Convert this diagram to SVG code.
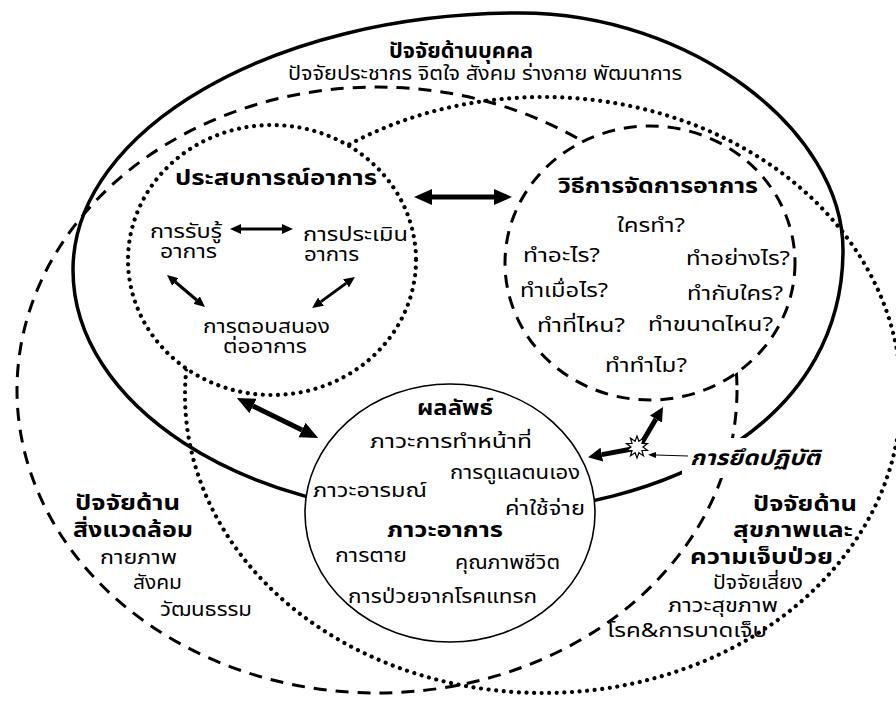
<svg xmlns="http://www.w3.org/2000/svg" width="896" height="702" viewBox="0 0 896 702">
<style>
text{font-family:"Noto Sans Thai","Noto Sans","DejaVu Sans",sans-serif;font-size:19px;fill:#000}
.b{font-weight:bold;font-size:21px}
.bi{font-weight:bold;font-style:italic;font-size:21px}
.r{font-weight:normal;font-size:19px}
.solid{fill:none;stroke:#000;stroke-width:3.5}
.dash{fill:none;stroke:#000;stroke-width:3;stroke-dasharray:13 9}
.dot{fill:none;stroke:#000;stroke-width:4.2;stroke-linecap:round;stroke-dasharray:0.01 7.6}
.wdot{fill:#fff;stroke:#000;stroke-width:4.2;stroke-linecap:round;stroke-dasharray:0.01 7.6}
.wdash{fill:#fff;stroke:#000;stroke-width:3;stroke-dasharray:13 9}
.out{fill:#fff;stroke:#000;stroke-width:1.6}
.a5{stroke:#000;stroke-width:5;fill:none}
.a3{stroke:#000;stroke-width:3;fill:none}
.a1{stroke:#000;stroke-width:1.2;fill:none}
</style>
<defs>
<marker id="hb" markerUnits="userSpaceOnUse" markerWidth="18" markerHeight="16" refX="0" refY="8" orient="auto-start-reverse"><path d="M0,0 L18,8 L0,16 z" fill="#000"/></marker>
<marker id="hm" markerUnits="userSpaceOnUse" markerWidth="14" markerHeight="14" refX="0" refY="7" orient="auto-start-reverse"><path d="M0,0 L14,7 L0,14 z" fill="#000"/></marker>
<marker id="hs" markerUnits="userSpaceOnUse" markerWidth="11" markerHeight="10" refX="0" refY="5" orient="auto-start-reverse"><path d="M0,0 L11,5 L0,10 z" fill="#000"/></marker>
<marker id="ht" markerUnits="userSpaceOnUse" markerWidth="8" markerHeight="6" refX="0" refY="3" orient="auto"><path d="M0,0 L8,3 L0,6 z" fill="#000"/></marker>
</defs>
<rect width="896" height="702" fill="#fff"/>

<g id="personal">
<path class="solid" d="M73,270 C73,130 273,13 520,13 C690,13 843,130 843,250 C843,410 690,515 450,515 C242,515 73,404 73,270 Z"/>
<text class="b" x="389" y="58" textLength="144" lengthAdjust="spacingAndGlyphs">ปัจจัยด้านบุคคล</text>
<text x="288" y="80" textLength="394" lengthAdjust="spacingAndGlyphs">ปัจจัยประชากร จิตใจ สังคม ร่างกาย พัฒนาการ</text>
</g>

<g id="environment">
<ellipse class="dash" cx="377" cy="390" rx="360" ry="303"/>
<text class="b"><tspan x="75" y="510" textLength="105" lengthAdjust="spacingAndGlyphs">ปัจจัยด้าน</tspan><tspan x="73" y="537" textLength="120" lengthAdjust="spacingAndGlyphs">สิ่งแวดล้อม</tspan><tspan class="r" x="100" y="564" textLength="77" lengthAdjust="spacingAndGlyphs">กายภาพ</tspan><tspan class="r" x="133" y="589" textLength="49" lengthAdjust="spacingAndGlyphs">สังคม</tspan><tspan class="r" x="160" y="616" textLength="92" lengthAdjust="spacingAndGlyphs">วัฒนธรรม</tspan></text>
</g>

<g id="health">
<ellipse class="dot" cx="543" cy="395" rx="358" ry="298"/>
<text class="b"><tspan x="753" y="511" textLength="104" lengthAdjust="spacingAndGlyphs">ปัจจัยด้าน</tspan><tspan x="733" y="537" textLength="120" lengthAdjust="spacingAndGlyphs">สุขภาพและ</tspan><tspan x="690" y="564" textLength="143" lengthAdjust="spacingAndGlyphs">ความเจ็บป่วย</tspan><tspan class="r" x="713" y="589" textLength="90" lengthAdjust="spacingAndGlyphs">ปัจจัยเสี่ยง</tspan><tspan class="r" x="668" y="612" textLength="110" lengthAdjust="spacingAndGlyphs">ภาวะสุขภาพ</tspan><tspan class="r" x="607" y="637" textLength="160" lengthAdjust="spacingAndGlyphs">โรค&amp;การบาดเจ็บ</tspan></text>
</g>

<g id="experience">
<ellipse class="wdot" cx="272" cy="260" rx="144" ry="135"/>
<text class="b" x="175" y="185" textLength="202" lengthAdjust="spacingAndGlyphs">ประสบการณ์อาการ</text>
<text><tspan x="150" y="238" textLength="72" lengthAdjust="spacingAndGlyphs">การรับรู้</tspan><tspan x="160" y="258" textLength="57" lengthAdjust="spacingAndGlyphs">อาการ</tspan></text>
<text><tspan x="303" y="241" textLength="105" lengthAdjust="spacingAndGlyphs">การประเมิน</tspan><tspan x="304" y="261" textLength="55" lengthAdjust="spacingAndGlyphs">อาการ</tspan></text>
<text><tspan x="203" y="333" textLength="127" lengthAdjust="spacingAndGlyphs">การตอบสนอง</tspan><tspan x="223" y="353" textLength="84" lengthAdjust="spacingAndGlyphs">ต่ออาการ</tspan></text>
</g>

<g id="management">
<ellipse class="wdash" cx="650" cy="263" rx="145" ry="137"/>
<text class="b" x="558" y="193" textLength="200" lengthAdjust="spacingAndGlyphs">วิธีการจัดการอาการ</text>
<text x="617" y="232" textLength="68" lengthAdjust="spacingAndGlyphs">ใครทำ?</text>
<text x="523" y="262" textLength="77" lengthAdjust="spacingAndGlyphs">ทำอะไร?</text>
<text x="686" y="265" textLength="104" lengthAdjust="spacingAndGlyphs">ทำอย่างไร?</text>
<text x="520" y="297" textLength="88" lengthAdjust="spacingAndGlyphs">ทำเมื่อไร?</text>
<text x="687" y="300" textLength="96" lengthAdjust="spacingAndGlyphs">ทำกับใคร?</text>
<text x="537" y="332" textLength="88" lengthAdjust="spacingAndGlyphs">ทำที่ไหน?</text>
<text x="648" y="331" textLength="125" lengthAdjust="spacingAndGlyphs">ทำขนาดไหน?</text>
<text x="605" y="372" textLength="82" lengthAdjust="spacingAndGlyphs">ทำทำไม?</text>
</g>

<g id="outcome">
<ellipse class="out" cx="450" cy="513" rx="145" ry="129"/>
<text class="b" x="417" y="415" textLength="76" lengthAdjust="spacingAndGlyphs">ผลลัพธ์</text>
<text x="370" y="448" textLength="162" lengthAdjust="spacingAndGlyphs">ภาวะการทำหน้าที่</text>
<text x="450" y="479" textLength="130" lengthAdjust="spacingAndGlyphs">การดูแลตนเอง</text>
<text x="313" y="497" textLength="114" lengthAdjust="spacingAndGlyphs">ภาวะอารมณ์</text>
<text x="505" y="515" textLength="80" lengthAdjust="spacingAndGlyphs">ค่าใช้จ่าย</text>
<text class="b" x="387" y="537" textLength="116" lengthAdjust="spacingAndGlyphs">ภาวะอาการ</text>
<text x="335" y="562" textLength="72" lengthAdjust="spacingAndGlyphs">การตาย</text>
<text x="455" y="569" textLength="105" lengthAdjust="spacingAndGlyphs">คุณภาพชีวิต</text>
<text x="348" y="603" textLength="189" lengthAdjust="spacingAndGlyphs">การป่วยจากโรคแทรก</text>
</g>

<g id="adherence">
<rect x="682" y="438" width="142" height="40" fill="#fff"/>
<text class="bi" x="690" y="465" textLength="130" lengthAdjust="spacingAndGlyphs">การยึดปฏิบัติ</text>
</g>

<g id="connectors">
<line class="a5" x1="432" y1="197" x2="494" y2="197" marker-start="url(#hb)" marker-end="url(#hb)"/>
<line class="a5" x1="253" y1="406" x2="302" y2="430" marker-start="url(#hb)" marker-end="url(#hb)"/>
<line class="a3" x1="241" y1="229" x2="282" y2="229" marker-start="url(#hs)" marker-end="url(#hs)"/>
<line class="a3" x1="175.4" y1="282" x2="196.6" y2="300" marker-start="url(#hs)" marker-end="url(#hs)"/>
<line class="a3" x1="346" y1="283.4" x2="321" y2="301.6" marker-start="url(#hs)" marker-end="url(#hs)"/>
<line class="a1" x1="688" y1="456" x2="656" y2="455" marker-end="url(#ht)"/>
<line class="a5" x1="632" y1="449" x2="601.8" y2="454.6" marker-end="url(#hm)"/>
<line class="a5" x1="640" y1="446" x2="655.9" y2="419.1" marker-end="url(#hm)"/>
<polygon fill="#fff" stroke="#000" stroke-width="1.2" points="637,436 638.9,441.3 643.5,438.1 641.9,443.5 647.5,443.6 643,447 647.5,450.4 641.9,450.5 643.5,455.9 638.9,452.7 637,458 635.1,452.7 630.5,455.9 632.1,450.5 626.5,450.4 631,447 626.5,443.6 632.1,443.5 630.5,438.1 635.1,441.3"/>
</g>
</svg>
